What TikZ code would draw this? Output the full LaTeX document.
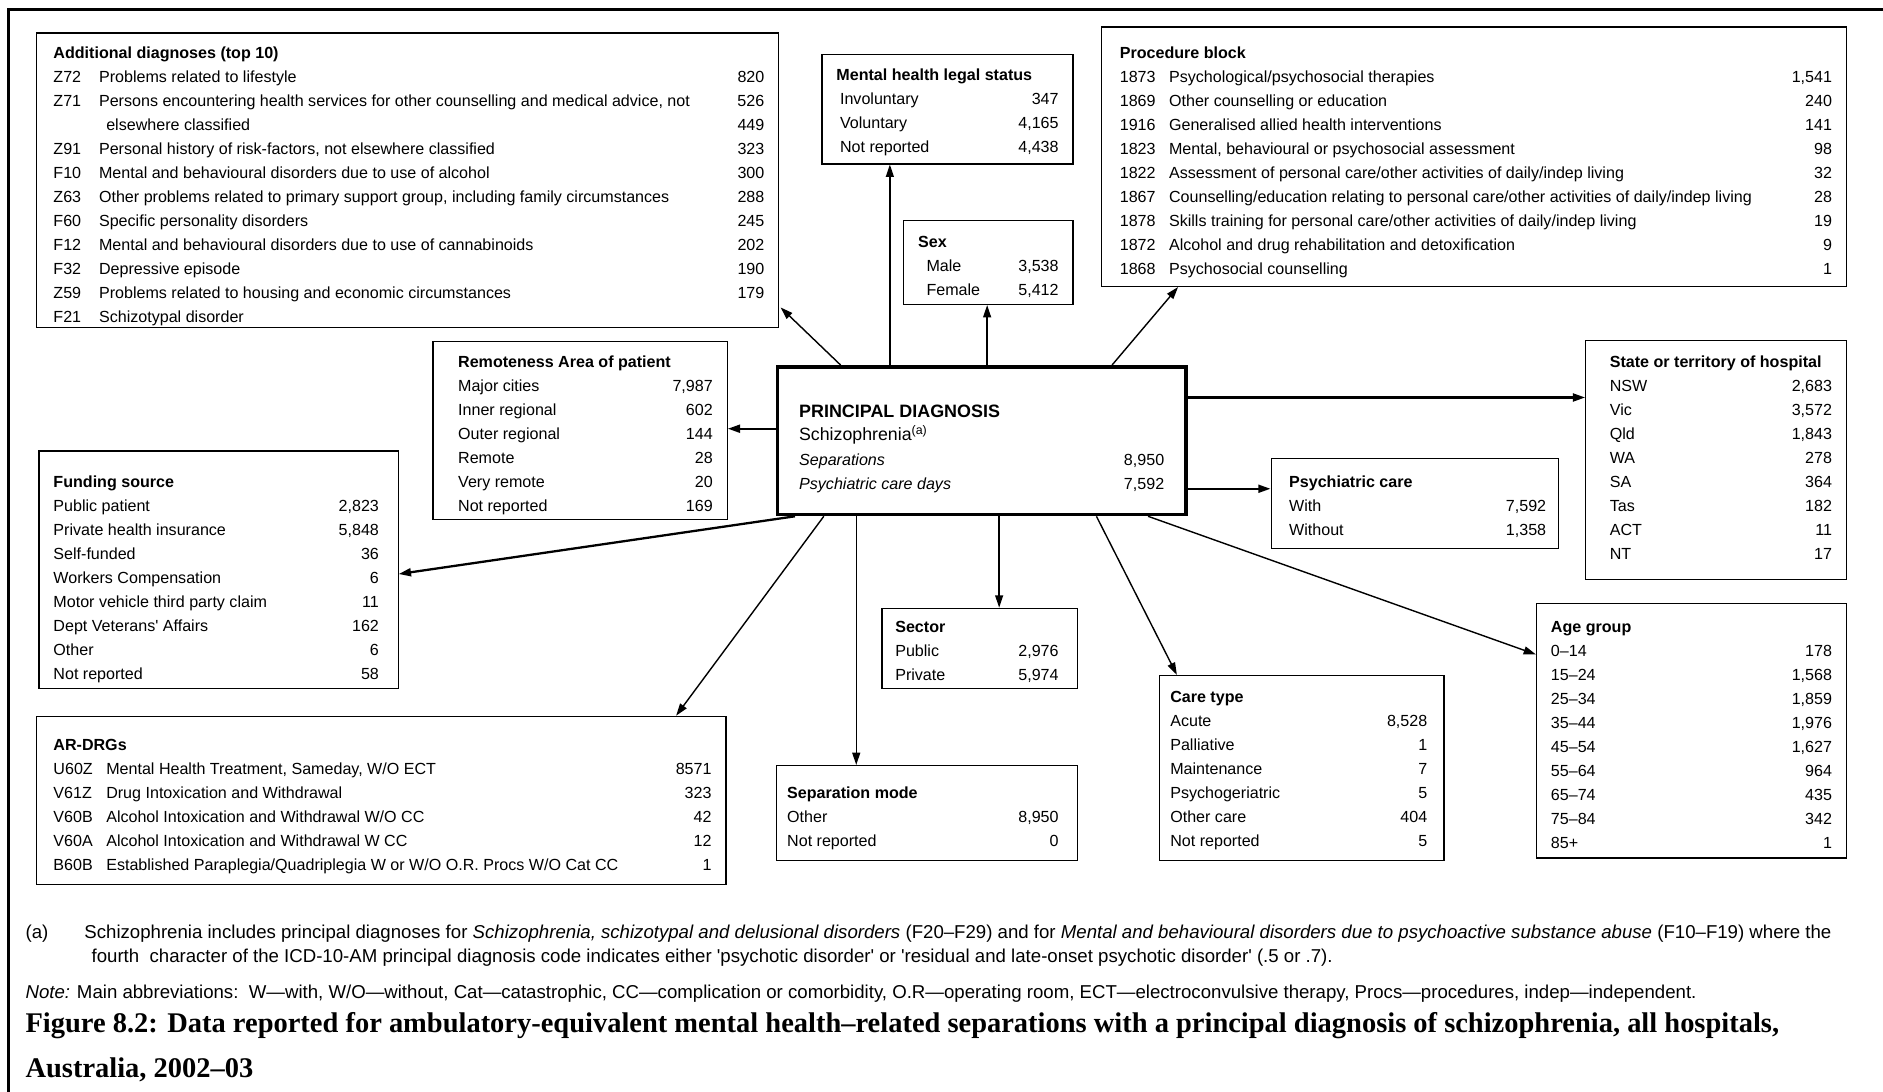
\documentclass[tikz,border=0pt]{standalone}
\usepackage{fontspec}
\setmainfont{Liberation Sans}
\newfontfamily\capfont{Liberation Serif}
\usetikzlibrary{arrows.meta}

\newdimen\pxu
\pxu=0.024018cm
\newenvironment{cols}[3]{\def\lpad{#2}\def\ncols{2}%
  \begin{tabular*}{#1\pxu}[t]{@{\hspace{#2\pxu}}l@{\extracolsep{\fill}}r@{\extracolsep{0pt}\hspace{#3\pxu}}}}%
  {\end{tabular*}}
\newenvironment{codecols}[4]{\def\lpad{#2}\def\ncols{3}%
  \begin{tabular*}{#1\pxu}[t]{@{\hspace{#2\pxu}}p{#4\pxu}@{}l@{\extracolsep{\fill}}r@{\extracolsep{0pt}\hspace{#3\pxu}}}}%
  {\end{tabular*}}
\newcommand{\ttl}[1]{\multicolumn{\ncols}{@{\hspace{\lpad\pxu}}l}{\bfseries #1}\\}

\begin{document}
\begin{tikzpicture}[x=0.024018cm, y=-0.024018cm,
        tbox/.style 2 args={draw, line width=0.7pt, anchor=north west, inner sep=0pt,
                    text height=#1*\pxu, text depth=(#2-#1)*\pxu,
                    font=\fontsize{9.15}{13.66}\selectfont},
        pdbox/.style={line width=2pt},
        arr/.style={-{Triangle[length=7pt, width=4.5pt]}, line width=0.8pt},
        thickarr/.style={arr, line width=1.3pt},
        note/.style={anchor=base west, inner sep=0pt, font=\fontsize{10.6}{12}\selectfont},
        captext/.style={anchor=base west, inner sep=0pt, font=\capfont\bfseries\fontsize{16.2}{19}\selectfont},
    ]
        \useasboundingbox (0,0) rectangle (1568,909);
        \draw[line width=1.4pt] (7,909) -- (7,8) -- (1568,8);

        \node[tbox={42.4}{123}, pdbox] (pd) at (646,304) {\begin{cols}{340}{18}{18}
            \multicolumn{2}{@{\hspace{18\pxu}}l}{\fontsize{10.2}{12}\selectfont\bfseries PRINCIPAL DIAGNOSIS}\\[-1\pxu]
            \multicolumn{2}{@{\hspace{18\pxu}}l}{\fontsize{10.1}{12}\selectfont Schizophrenia\textsuperscript{(a)}}\\[1\pxu]
            \textit{Separations} & 8,950\\
            \textit{Psychiatric care days} & 7,592
        \end{cols}};

        \node[tbox={20.8}{245}] (adddiag) at (30,27) {\begin{codecols}{618}{14}{12}{38}
            \ttl{Additional diagnoses (top 10)}
            Z72 & Problems related to lifestyle & 820\\
            Z71 & Persons encountering health services for other counselling and medical advice, not & 526\\
                & \hspace*{6\pxu}elsewhere classified & 449\\
            Z91 & Personal history of risk-factors, not elsewhere classified & 323\\
            F10 & Mental and behavioural disorders due to use of alcohol & 300\\
            Z63 & Other problems related to primary support group, including family circumstances & 288\\
            F60 & Specific personality disorders & 245\\
            F12 & Mental and behavioural disorders due to use of cannabinoids & 202\\
            F32 & Depressive episode & 190\\
            Z59 & Problems related to housing and economic circumstances & 179\\
            F21 & Schizotypal disorder &
        \end{codecols}};

        \node[tbox={21.8}{91}] (legal) at (684,45) {\begin{cols}{209}{12}{12}
            \ttl{Mental health legal status}
            \hspace*{3\pxu}Involuntary & 347\\
            \hspace*{3\pxu}Voluntary & 4,165\\
            \hspace*{3\pxu}Not reported & 4,438
        \end{cols}};

        \node[tbox={22.8}{70}] (sex) at (752,183) {\begin{cols}{141}{12}{12}
            \ttl{Sex}
            \hspace*{7\pxu}Male & 3,538\\
            \hspace*{7\pxu}Female & 5,412
        \end{cols}};

        \node[tbox={25.8}{216}] (proc) at (917,22) {\begin{codecols}{620}{15}{12}{41}
            \ttl{Procedure block}
            1873 & Psychological/psychosocial therapies & 1,541\\
            1869 & Other counselling or education & 240\\
            1916 & Generalised allied health interventions & 141\\
            1823 & Mental, behavioural or psychosocial assessment & 98\\
            1822 & Assessment of personal care/other activities of daily/indep living & 32\\
            1867 & Counselling/education relating to personal care/other activities of daily/indep living & 28\\
            1878 & Skills training for personal care/other activities of daily/indep living & 19\\
            1872 & Alcohol and drug rehabilitation and detoxification & 9\\
            1868 & Psychosocial counselling & 1
        \end{codecols}};

        \node[tbox={21.8}{148}] (remote) at (360,284) {\begin{cols}{245}{21}{12}
            \ttl{Remoteness Area of patient}
            Major cities & 7,987\\
            Inner regional & 602\\
            Outer regional & 144\\
            Remote & 28\\
            Very remote & 20\\
            Not reported & 169
        \end{cols}};

        \node[tbox={22.8}{199}] (state) at (1320,283) {\begin{cols}{217}{20}{12}
            \ttl{State or territory of hospital}
            NSW & 2,683\\
            Vic & 3,572\\
            Qld & 1,843\\
            WA & 278\\
            SA & 364\\
            Tas & 182\\
            ACT & 11\\
            NT & 17
        \end{cols}};

        \node[tbox={24.8}{75}] (psych) at (1058,381) {\begin{cols}{239}{15}{10}
            \ttl{Psychiatric care}
            With & 7,592\\
            Without & 1,358
        \end{cols}};

        \node[tbox={30.8}{198}] (fund) at (32,375) {\begin{cols}{299}{12}{16}
            \ttl{Funding source}
            Public patient & 2,823\\
            Private health insurance & 5,848\\
            Self-funded & 36\\
            Workers Compensation & 6\\
            Motor vehicle third party claim & 11\\
            Dept Veterans\textquotesingle\ Affairs & 162\\
            Other & 6\\
            Not reported & 58
        \end{cols}};

        \node[tbox={19.8}{67}] (sector) at (734,506) {\begin{cols}{163}{11}{16}
            \ttl{Sector}
            Public & 2,976\\
            Private & 5,974
        \end{cols}};

        \node[tbox={22.8}{154}] (care) at (965,562) {\begin{cols}{237}{9}{14}
            \ttl{Care type}
            Acute & 8,528\\
            Palliative & 1\\
            Maintenance & 7\\
            Psychogeriatric & 5\\
            Other care & 404\\
            Not reported & 5
        \end{cols}};

        \node[tbox={23.8}{212}] (age) at (1279,502) {\begin{cols}{258}{12}{12}
            \ttl{Age group}
            0–14 & 178\\
            15–24 & 1,568\\
            25–34 & 1,859\\
            35–44 & 1,976\\
            45–54 & 1,627\\
            55–64 & 964\\
            65–74 & 435\\
            75–84 & 342\\
            85+ & 1
        \end{cols}};

        \node[tbox={28.8}{140}] (drg) at (30,596) {\begin{codecols}{574}{14}{12}{44}
            \ttl{AR-DRGs}
            U60Z & Mental Health Treatment, Sameday, W/O ECT & 8571\\
            V61Z & Drug Intoxication and Withdrawal & 323\\
            V60B & Alcohol Intoxication and Withdrawal W/O CC & 42\\
            V60A & Alcohol Intoxication and Withdrawal W CC & 12\\
            B60B & Established Paraplegia/Quadriplegia W or W/O O.R. Procs W/O Cat CC & 1
        \end{codecols}};

        \node[tbox={27.8}{79}] (sepmode) at (646,637) {\begin{cols}{251}{9}{16}
            \ttl{Separation mode}
            Other & 8,950\\
            Not reported & 0
        \end{cols}};

        \draw[arr] ([shift={(54,0)}]pd.north west) -- ([shift={(1,-17)}]adddiag.south east);
        \draw[arr] ([shift={(95,0)}]pd.north west) -- ([shift={(57,0)}]legal.south west);
        \draw[arr] ([shift={(176,0)}]pd.north west) -- ([shift={(70,0)}]sex.south west);
        \draw[arr] ([shift={(280,0)}]pd.north west) -- ([shift={(64,0)}]proc.south west);
        \draw[thickarr] ([shift={(0,27)}]pd.north east) -- ([shift={(0,48)}]state.north west);
        \draw[thickarr] ([shift={(0,103)}]pd.north east) -- ([shift={(0,26)}]psych.north west);
        \draw[arr] ([shift={(310,0)}]pd.south west) -- ([shift={(0,43)}]age.north west);
        \draw[arr] ([shift={(267,0)}]pd.south west) -- ([shift={(15,0)}]care.north west);
        \draw[arr] ([shift={(186,0)}]pd.south west) -- ([shift={(98,0)}]sector.north west);
        \draw[arr] ([shift={(67,0)}]pd.south west) -- ([shift={(67,0)}]sepmode.north west);
        \draw[arr] ([shift={(40,0)}]pd.south west) -- ([shift={(533,0)}]drg.north west);
        \draw[thickarr] ([shift={(16,0)}]pd.south west) -- ([shift={(0,103)}]fund.north east);
        \draw[thickarr] ([shift={(0,53)}]pd.north west) -- ([shift={(0,73)}]remote.north east);

        \node[note] (fnmark) at (21,781.5) {(a)};
        \node[note] (fnline1) at (70,781.5) {Schizophrenia includes principal diagnoses for \textit{Schizophrenia, schizotypal and delusional disorders} (F20–F29) and for \textit{Mental and behavioural disorders due to psychoactive substance abuse} (F10–F19) where the};
        \node[note] (fnline2) at (76,801.5) {fourth\ \ character of the ICD-10-AM principal diagnosis code indicates either \textquotesingle psychotic disorder\textquotesingle\ or \textquotesingle residual and late-onset psychotic disorder\textquotesingle\ (.5 or .7).};
        \node[note] (abbrev) at (21,831.5) {\textit{Note:} Main abbreviations:\ \ W—with, W/O—without, Cat—catastrophic, CC—complication or comorbidity, O.R—operating room, ECT—electroconvulsive therapy, Procs—procedures, indep—independent.};
        \node[captext] (cap1) at (21,860) {Figure 8.2: Data reported for ambulatory-equivalent mental health–related separations with a principal diagnosis of schizophrenia, all hospitals,};
        \node[captext] (cap2) at (21,897) {Australia, 2002–03};
    \end{tikzpicture}
\end{document}
